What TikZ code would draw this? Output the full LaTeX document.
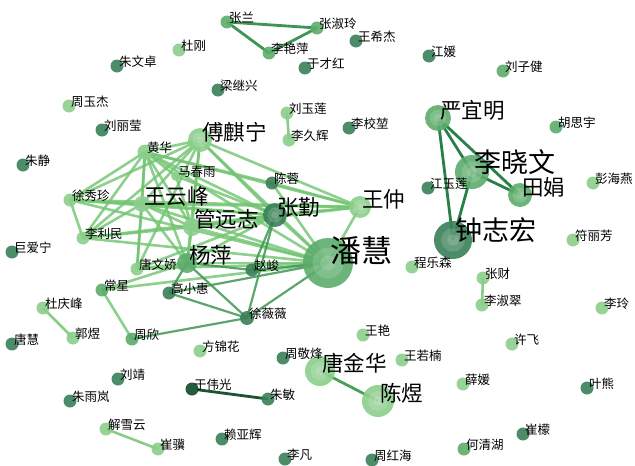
\documentclass[tikz,border=0pt]{standalone}
\usepackage{fontspec}
\setmainfont{Noto Sans CJK SC}
\usepackage{tikz}
\usetikzlibrary{positioning, calc}
\definecolor{nodeL}{RGB}{140,206,140}
\definecolor{nodeM}{RGB}{92,172,108}
\definecolor{nodeD}{RGB}{58,128,88}
\definecolor{nodeX}{RGB}{34,92,60}
\definecolor{edgeL}{RGB}{112,196,112}
\definecolor{edgeM}{RGB}{62,150,84}
\definecolor{edgeD}{RGB}{40,128,72}
\definecolor{edgeX}{RGB}{26,84,50}
\tikzstyle{tieLight}=[color=edgeL, line width=2.6pt, opacity=0.8]
\tikzstyle{tieMid}=[color=edgeM, line width=2.2pt, opacity=0.85]
\tikzstyle{tieDark}=[color=edgeD, line width=2.8pt]
\tikzstyle{nameSmall}=[anchor=base west, inner sep=0pt, xshift=2pt,
  font=\fontsize{12.5}{12.5}\selectfont]
\tikzstyle{nameBig}=[nameSmall, font=\fontsize{21.5}{21.5}\selectfont]
\tikzstyle{nameHuge}=[nameSmall, font=\fontsize{27}{27}\selectfont]

\begin{document}
\begin{tikzpicture}[x=1pt, y=-1pt]
      \useasboundingbox (0,0) rectangle (635,466);
      % people
      \coordinate (zl) at (227,22);
      \coordinate (zsl) at (317,28);
      \coordinate (lyp) at (269,53);
      \coordinate (wxj) at (356,41);
      \coordinate (dg) at (179,50);
      \coordinate (zwz) at (117,66);
      \coordinate (ych) at (305,68);
      \coordinate (jy) at (429,56);
      \coordinate (lzj) at (503,71);
      \coordinate (ljx) at (218,90);
      \coordinate (zyj) at (69,106);
      \coordinate (lyl) at (287,113);
      \coordinate (ljh) at (289,140);
      \coordinate (lxk) at (349,128);
      \coordinate (lly) at (102,130);
      \coordinate (fqn) at (200,140);
      \coordinate (yym) at (438,118);
      \coordinate (hsy) at (556,127);
      \coordinate (hh) at (145,152);
      \coordinate (zj) at (23,165);
      \coordinate (mcy) at (176,176);
      \coordinate (cr) at (272,183);
      \coordinate (xxz) at (70,200);
      \coordinate (wyf) at (142,204);
      \coordinate (gyz) at (192,227);
      \coordinate (zq) at (275,215);
      \coordinate (wz) at (360,207);
      \coordinate (lxw) at (472,172);
      \coordinate (tj) at (520,195);
      \coordinate (jyl) at (428,188);
      \coordinate (phy) at (593,183);
      \coordinate (zzh) at (453,240);
      \coordinate (ph) at (328,263);
      \coordinate (yp) at (187,263);
      \coordinate (llm) at (83,238);
      \coordinate (jan) at (12,252);
      \coordinate (flf) at (573,240);
      \coordinate (twj) at (137,269);
      \coordinate (zhj) at (252,270);
      \coordinate (cls) at (412,267);
      \coordinate (zc) at (483,278);
      \coordinate (cx) at (102,290);
      \coordinate (gxh) at (169,293);
      \coordinate (dqf) at (43,308);
      \coordinate (lsc) at (482,305);
      \coordinate (ll) at (602,308);
      \coordinate (xww) at (247,318);
      \coordinate (gy) at (73,338);
      \coordinate (th) at (12,344);
      \coordinate (zx) at (132,339);
      \coordinate (wy) at (363,335);
      \coordinate (xf) at (512,344);
      \coordinate (fjh) at (200,351);
      \coordinate (zjf) at (283,358);
      \coordinate (tjh) at (320,371);
      \coordinate (wrn) at (402,360);
      \coordinate (cy) at (378,401);
      \coordinate (xy) at (463,384);
      \coordinate (yx) at (587,388);
      \coordinate (lj) at (118,379);
      \coordinate (ywg) at (192,389);
      \coordinate (zm) at (268,399);
      \coordinate (zyl) at (70,401);
      \coordinate (xxy) at (106,429);
      \coordinate (cj) at (158,449);
      \coordinate (lyh) at (222,439);
      \coordinate (cm) at (523,434);
      \coordinate (hqh) at (464,449);
      \coordinate (lf) at (285,459);
      \coordinate (zhh) at (372,460);

      % ties
      \foreach \a/\b in {fqn/hh, fqn/wyf, fqn/gyz, fqn/yp, fqn/zq, fqn/wz,
        fqn/ph, fqn/xxz, fqn/twj, fqn/llm, hh/wyf, hh/gyz, hh/yp, hh/twj,
        hh/zq, hh/wz, hh/ph, hh/xxz, hh/mcy, hh/cr, hh/llm, mcy/zq, mcy/gyz,
        xxz/llm, xxz/wyf, xxz/zq, xxz/wz, xxz/ph, llm/wyf, llm/gyz, llm/ph,
        llm/zq, wyf/gyz, wyf/yp, wyf/zq, wyf/wz, wyf/ph, wyf/twj, gyz/yp,
        gyz/zq, gyz/ph, gyz/wz, yp/zq, yp/ph, yp/twj, twj/ph, twj/zq, zq/wz,
        zq/ph, cr/ph, cr/wz, wz/ph, cx/ph, cx/zx, cx/yp}
      \draw[tieLight] (\a) -- (\b);
      \foreach \a/\b in {gxh/ph, gxh/xww, zhj/ph, zq/xww, yp/xww, zx/xww,
        xww/ph, zhj/yp, gxh/yp, zq/zhj}
      \draw[tieMid] (\a) -- (\b);
      \foreach \a/\b in {lyl/ljh, zc/lsc, dqf/gy, xxy/cj}
      \draw[tieLight, opacity=1, color=nodeL!90!edgeL] (\a) -- (\b);
      \foreach \a/\b in {yym/zzh, yym/lxw, yym/tj, lxw/zzh, lxw/tj}
      \draw[tieDark] (\a) -- (\b);
      \foreach \a/\b in {zl/zsl, zl/lyp, lyp/zsl}
      \draw[tieDark, color=edgeM] (\a) -- (\b);
      \draw[tieDark, color=edgeM!80!edgeL] (tjh) -- (cy);
      \draw[tieDark, color=edgeX] (ywg) -- (zm);

      % dots
      \foreach \p/\r in {dg/6.5, zyj/6.5, lyl/6.5, ljh/6.5, fqn/12, hh/7.5,
        mcy/5, xxz/6.5, wyf/8, gyz/9, wz/11, phy/6.5, llm/6.5, flf/6.5,
        twj/6.5, cls/6.5, zc/6.5, dqf/6.5, lsc/6.5, ll/6.5, gy/6.5, wy/6.5,
        xf/6.5, fjh/6.5, tjh/15, wrn/6.5, cy/16, xy/6.5, xxy/6.5, cj/6.5}
      \fill[nodeL, opacity=0.9] (\p) circle [radius=\r pt];
      \foreach \p/\r in {zl/6.5, zsl/6.5, lyp/6.5, lzj/6.5, hsy/6.5, yym/13,
        lxw/17, tj/12, ph/25, yp/10, cx/6.5, zx/6.5, hqh/6.5}
      \fill[nodeM, opacity=0.9] (\p) circle [radius=\r pt];
      \foreach \p/\r in {wxj/6.5, zwz/6.5, ych/6.5, jy/6.5, ljx/6.5, lxk/6.5,
        lly/6.5, zj/6.5, cr/6.5, zq/12, jyl/6.5, zzh/19, jan/6.5, zhj/6.5,
        gxh/6.5, xww/7, th/6.5, zjf/6.5, yx/6.5, lj/6.5, zm/6.5, zyl/6.5,
        lyh/6.5, cm/6.5, lf/6.5, zhh/6.5}
      \fill[nodeD, opacity=0.9] (\p) circle [radius=\r pt];
      \fill[nodeX] (ywg) circle [radius=6.5pt];
      \foreach \p/\r in {ph/25, lxw/17, zzh/19, yym/13, tj/12, tjh/15, cy/16,
        fqn/12, zq/12, wz/11}
      {
        \fill[white, opacity=0.15] (\p) circle [radius=0.62*\r pt];
        \fill[white, opacity=0.15] (\p) circle [radius=0.3*\r pt];
      }

      % names
      \foreach \p/\t in {zl/张兰, zsl/张淑玲, lyp/李艳萍, wxj/王希杰, dg/杜刚,
        zwz/朱文卓, ych/于才红, jy/江媛, lzj/刘子健, ljx/梁继兴, zyj/周玉杰,
        lyl/刘玉莲, ljh/李久辉, lxk/李校堃, lly/刘丽莹, hsy/胡思宇, hh/黄华,
        zj/朱静, mcy/马春雨, cr/陈蓉, xxz/徐秀珍, jyl/江玉莲, phy/彭海燕,
        llm/李利民, jan/巨爱宁, flf/符丽芳, twj/唐文娇, zhj/赵峻, cls/程乐森,
        zc/张财, cx/常星, gxh/高小惠, dqf/杜庆峰, lsc/李淑翠, ll/李玲,
        xww/徐薇薇, gy/郭煜, th/唐慧, zx/周欣, wy/王艳, xf/许飞, fjh/方锦花,
        zjf/周敬烽, wrn/王若楠, xy/薛媛, yx/叶熊, lj/刘靖, ywg/于伟光, zm/朱敏,
        zyl/朱雨岚, xxy/解雪云, cj/崔骥, lyh/赖亚辉, cm/崔檬, hqh/何清湖,
        lf/李凡, zhh/周红海}
      \node[nameSmall] (t\p) at (\p) {\t};
      \foreach \p/\t in {fqn/傅麒宁, yym/严宜明, wyf/王云峰, gyz/管远志,
        zq/张勤, wz/王仲, tj/田娟, yp/杨萍, tjh/唐金华, cy/陈煜}
      \node[nameBig] (t\p) at (\p) {\t};
      \foreach \p/\t in {lxw/李晓文, zzh/钟志宏}
      \node[nameHuge] (t\p) at (\p) {\t};
      \node[nameSmall, font=\fontsize{31}{31}\selectfont, yshift=1pt] (tph) at (ph) {潘慧};
    \end{tikzpicture}
\end{document}
